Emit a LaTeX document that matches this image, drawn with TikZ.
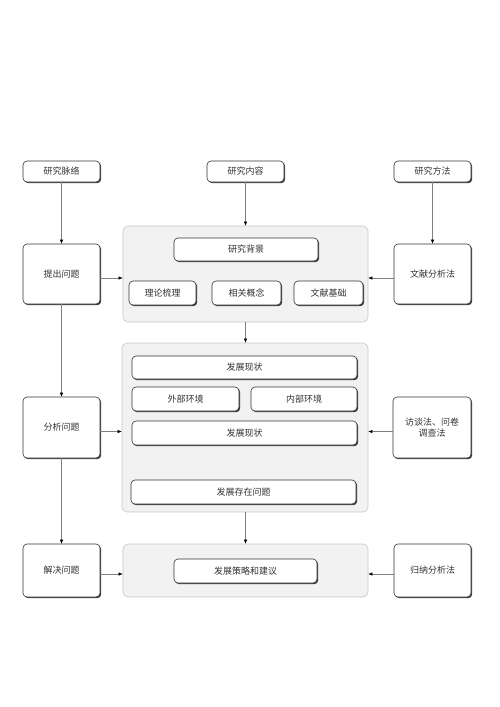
\documentclass[tikz,border=0pt]{standalone}
\usepackage{fontspec}
\setmainfont{Noto Sans CJK SC}
\usetikzlibrary{shadows,arrows.meta}
\begin{document}
\begin{tikzpicture}[x=1pt,y=-1pt,
  box/.style={draw=black!80, fill=white, rounded corners=4pt, line width=0.6pt,
    drop shadow={shadow xshift=1.2pt, shadow yshift=-1.2pt, fill=black!75, opacity=1},
    font=\fontsize{9pt}{11.5pt}\selectfont, text=black!80, align=center, inner sep=0pt},
  panel/.style={draw=black!22, fill=black!5, rounded corners=5pt, line width=0.6pt, inner sep=0pt},
  arr/.style={draw=black!50, line width=0.5pt, -{Latex[length=4pt,width=3.4pt,fill=black,color=black]}}
]
\useasboundingbox (0,0) rectangle (500,707);
% top row
\node[box, minimum width=77pt, minimum height=21pt] (t1) at (61.5,171.5) {研究脉络};
\node[box, minimum width=77pt, minimum height=21pt] (t2) at (245.5,171.5) {研究内容};
\node[box, minimum width=77pt, minimum height=21pt] (t3) at (432.5,171.5) {研究方法};
% left column
\node[box, minimum width=77pt, minimum height=60pt] (l1) at (61.5,274) {提出问题};
\node[box, minimum width=77pt, minimum height=61pt] (l2) at (61.5,427.5) {分析问题};
\node[box, minimum width=77pt, minimum height=53pt] (l3) at (61.5,570.5) {解决问题};
% right column
\node[box, minimum width=77pt, minimum height=60pt] (r1) at (432.5,274) {文献分析法};
\node[box, minimum width=78pt, minimum height=61pt] (r2) at (432,427.5) {访谈法、问卷\\调查法};
\node[box, minimum width=77pt, minimum height=53pt] (r3) at (432.5,570.5) {归纳分析法};
% panels
\node[panel, minimum width=245pt, minimum height=96pt] (p1) at (245.5,274) {};
\node[panel, minimum width=246pt, minimum height=169pt] (p2) at (245,427.5) {};
\node[panel, minimum width=245pt, minimum height=53pt] (p3) at (245.5,570.5) {};
% panel 1 contents
\node[box, minimum width=144pt, minimum height=23pt] (bg) at (246,249.5) {研究背景};
\node[box, minimum width=67pt, minimum height=24pt] (ll) at (162.5,293) {理论梳理};
\node[box, minimum width=69pt, minimum height=24pt] (xg) at (246.5,293) {相关概念};
\node[box, minimum width=69pt, minimum height=24pt] (wx) at (328.5,293) {文献基础};
% panel 2 contents
\node[box, minimum width=225pt, minimum height=23pt] (xz1) at (244.5,367.5) {发展现状};
\node[box, minimum width=107pt, minimum height=24pt] (wb) at (185.5,399) {外部环境};
\node[box, minimum width=106pt, minimum height=24pt] (nb) at (304,399) {内部环境};
\node[box, minimum width=225pt, minimum height=24pt] (xz2) at (244.5,433) {发展现状};
\node[box, minimum width=225pt, minimum height=24pt] (wt) at (243.5,492) {发展存在问题};
% panel 3 contents
\node[box, minimum width=143pt, minimum height=24pt] (cl) at (245.5,571) {发展策略和建议};
% vertical arrows
\draw[arr] (t1) -- (l1);
\draw[arr] (l1) -- (l2);
\draw[arr] (l2) -- (l3);
\draw[arr] (t2) -- (t2 |- p1.north);
\draw[arr] (t2 |- p1.south) -- (t2 |- p2.north);
\draw[arr] (t2 |- p2.south) -- (t2 |- p3.north);
\draw[arr] (t3) -- (t3 |- r1.north);
% horizontal arrows
\draw[arr] ([yshift=-4pt]l1.east) -- ([yshift=-4pt]l1.east -| p1.west);
\draw[arr] ([yshift=-4pt]r1.west) -- ([yshift=-4pt]r1.west -| p1.east);
\draw[arr] ([yshift=-4pt]l2.east) -- ([yshift=-4pt]l2.east -| p2.west);
\draw[arr] ([yshift=-4pt]r2.west) -- ([yshift=-4pt]r2.west -| p2.east);
\draw[arr] ([yshift=-3.5pt]l3.east) -- ([yshift=-3.5pt]l3.east -| p3.west);
\draw[arr] ([yshift=-3.5pt]r3.west) -- ([yshift=-3.5pt]r3.west -| p3.east);
\end{tikzpicture}
\end{document}
